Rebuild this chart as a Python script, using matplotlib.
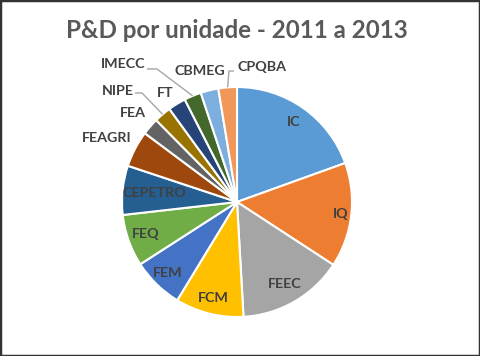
import numpy as np
import matplotlib
matplotlib.use("Agg")
import matplotlib.pyplot as plt
from matplotlib.patches import Rectangle

# ---- data ----
units = ['IC', 'IQ', 'FEEC', 'FCM', 'FEM', 'FEQ', 'CEPETRO', 'FEAGRI',
         'FEA', 'NIPE', 'FT', 'IMECC', 'CBMEG', 'CPQBA']
shares = [19.5, 14.7, 14.9, 9.6, 7.2, 7.3, 6.9, 5.1, 2.4, 2.4, 2.5, 2.4, 2.5, 2.6]
title = 'P&D por unidade - 2011 a 2013'

# ---- style ----
colors = ['#5B9BD5', '#ED7D31', '#A5A5A5', '#FFC000', '#4472C4', '#70AD47',
          '#255E91', '#9E480E', '#636363', '#997300', '#264478', '#43682B',
          '#7CAFDD', '#F1975A']
inside_dist = {'IC': 0.85, 'IQ': 0.91, 'FEEC': 0.82, 'FCM': 0.86,
               'FEM': 0.86, 'FEQ': 0.84, 'CEPETRO': 0.72}
outside_pos = {'FEAGRI': (-1.13, 0.557), 'FEA': (-0.904, 0.774),
               'NIPE': (-1.035, 0.965), 'FT': (-0.626, 0.948),
               'IMECC': (-0.991, 1.20), 'CBMEG': (-0.322, 1.139),
               'CPQBA': (0.217, 1.174)}
leaders = {'IMECC': [(-0.783, 1.157), (-0.696, 1.157)],
           'NIPE': [(-0.887, 0.948), (-0.826, 0.948)],
           'CPQBA': [(-0.026, 1.139), (-0.07, 1.139)]}

W, H = 480, 356
R = 115.0
cx, cy = 237.0, 202.0  # pixel center (from top)

fig = plt.figure(figsize=(W / 100, H / 100), dpi=100)
ax = fig.add_axes([0, 0, 1, 1])
wedges, _ = ax.pie(shares, startangle=90, counterclock=False, colors=colors,
                   radius=1.0,
                   wedgeprops=dict(edgecolor='white', linewidth=1.5))
ax.set_xlim(-cx / R, (W - cx) / R)
ax.set_ylim(-(H - cy) / R, cy / R)
ax.set_aspect('equal')
ax.axis('off')

font = 'Lato'
lab_col = '#404040'
for w, name in zip(wedges, units):
    mid = np.deg2rad((w.theta1 + w.theta2) / 2)
    if name in inside_dist:
        d = inside_dist[name]
        ax.text(d * np.cos(mid), d * np.sin(mid), name, ha='center', va='center',
                fontsize=10.3, fontweight='bold', color=lab_col, family=font)
    else:
        x, y = outside_pos[name]
        ax.text(x, y, name, ha='center', va='center', fontsize=10.3,
                fontweight='bold', color=lab_col, family=font)
        if name in leaders:
            pts = leaders[name] + [(np.cos(mid) * 1.0, np.sin(mid) * 1.0)]
            xs, ys = zip(*pts)
            ax.plot(xs, ys, color='#A6A6A6', lw=1.0, solid_capstyle='butt')

fig.text(cx / W, 1 - 30 / H, title, ha='center', va='center', fontsize=17.4,
         fontweight='bold', color='#595959', family=font)

fig.patches.append(Rectangle((0, 0), 1, 1, transform=fig.transFigure,
                             fill=False, edgecolor='#333333', lw=2.5))

fig.savefig('out.png', dpi=100, facecolor='white')
